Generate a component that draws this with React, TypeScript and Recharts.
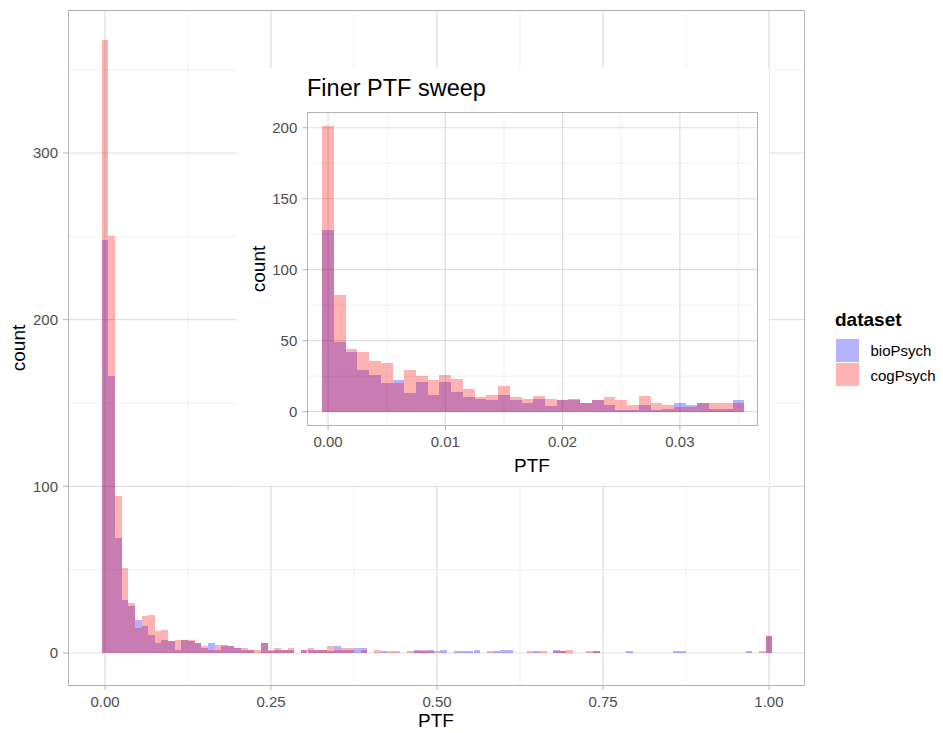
import { ComposedChart, Bar, XAxis, YAxis, CartesianGrid } from 'recharts';

// PTF histogram counts, bins 0.01 wide centred on 0.00, 0.01 … 1.00
const mainBio = [
  248, 166, 69, 32, 28, 20, 16, 11, 6, 8,
  7, 2, 8, 7, 6, 3, 6, 2, 5, 4,
  3, 2, 2, 0, 6, 1, 2, 2, 2, 0,
  2, 2, 2, 2, 1, 4, 2, 2, 3, 3,
  0, 0, 1, 0, 0, 0, 0, 2, 1, 2,
  0, 2, 0, 1, 1, 1, 2, 0, 0, 1,
  2, 2, 0, 0, 0, 1, 0, 0, 2, 1,
  0, 0, 0, 0, 1, 0, 0, 0, 0, 1,
  0, 0, 0, 0, 0, 0, 1, 1, 0, 0,
  0, 0, 0, 0, 0, 0, 0, 1, 0, 0,
  10,
];
const mainCog = [
  368, 250, 94, 51, 30, 15, 22, 23, 13, 14,
  7, 8, 8, 8, 6, 4, 2, 5, 4, 4,
  3, 3, 2, 2, 6, 2, 3, 2, 3, 0,
  2, 3, 2, 2, 4, 2, 3, 3, 0, 2,
  0, 2, 0, 1, 1, 0, 1, 1, 2, 1,
  1, 0, 0, 0, 0, 0, 0, 0, 1, 0,
  0, 0, 0, 0, 1, 0, 1, 0, 1, 1,
  2, 0, 0, 1, 1, 0, 0, 0, 0, 0,
  0, 0, 0, 0, 0, 0, 0, 0, 0, 0,
  0, 0, 0, 0, 0, 0, 0, 0, 0, 1,
  10,
];

// finer sweep, bins 0.001 wide centred on 0.000 … 0.035
const fineBio = [
  128, 49, 42, 29, 26, 20, 22, 13, 21, 12,
  21, 14, 10, 9, 8, 12, 8, 6, 9, 4,
  8, 9, 6, 8, 5, 1, 1, 5, 1, 2,
  6, 5, 6, 2, 2, 8,
];
const fineCog = [
  201, 82, 44, 42, 36, 34, 20, 29, 25, 22,
  26, 23, 16, 10, 12, 18, 10, 9, 11, 9,
  8, 8, 6, 8, 10, 8, 5, 11, 6, 5,
  3, 3, 6, 6, 6, 6,
];

const mainXTicks = [0, 0.25, 0.5, 0.75, 1];
const mainXMinor = [0.125, 0.375, 0.625, 0.875];
const mainYTicks = [0, 100, 200, 300];
const mainYMinor = [50, 150, 250, 350];

const fineXTicks = [0, 0.01, 0.02, 0.03];
const fineXMinor = [0.005, 0.015, 0.025, 0.035];
const fineYTicks = [0, 50, 100, 150, 200];
const fineYMinor = [25, 75, 125, 175];

const datasets = ['bioPsych', 'cogPsych'];

const FONT = '"Liberation Sans", Arial, Helvetica, sans-serif';
const BIO = '#0000FF';
const COG = '#FF0000';
const BORDER = '#B3B3B3';

type Rect = { left: number; top: number; width: number; height: number };

interface HistogramProps {
  width: number;
  height: number;
  plot: Rect;
  bio: number[];
  cog: number[];
  binWidth: number;
  xDomain: [number, number];
  yDomain: [number, number];
  xTicks: number[];
  xMinor: number[];
  yTicks: number[];
  yMinor: number[];
}

function Histogram({
  width,
  height,
  plot,
  bio,
  cog,
  binWidth,
  xDomain,
  yDomain,
  xTicks,
  xMinor,
  yTicks,
  yMinor,
}: HistogramProps) {
  const rows = bio.map((b, i) => ({ bin: i, x: i * binWidth, bio: b, cog: cog[i] }));

  // band axis for the bars is padded so its bins line up with the numeric axis
  const pxPerUnit = plot.width / (xDomain[1] - xDomain[0]);
  const lastCentre = (bio.length - 1) * binWidth;
  const padding = {
    left: (-binWidth / 2 - xDomain[0]) * pxPerUnit,
    right: (xDomain[1] - lastCentre - binWidth / 2) * pxPerUnit,
  };
  // just under the band so recharts keeps the fractional width and no offset
  const barSize = binWidth * pxPerUnit * 0.9995;

  const yAxisW = 60;
  const xAxisH = 30;
  const margin = {
    top: plot.top,
    left: plot.left - yAxisW,
    right: width - plot.left - plot.width,
    bottom: height - plot.top - plot.height - xAxisH,
  };
  const tick = { fill: '#4D4D4D', fontSize: 15, fontFamily: FONT };

  return (
    <ComposedChart
      width={width}
      height={height}
      data={rows}
      margin={margin}
      barCategoryGap={0}
      barGap={0}
    >
      <CartesianGrid
        stroke="#EDEDED"
        strokeWidth={0.8}
        verticalValues={xMinor}
        horizontalValues={yMinor}
      />
      <CartesianGrid
        stroke="#DEDEDE"
        strokeWidth={1.2}
        verticalValues={xTicks}
        horizontalValues={yTicks}
      />
      <XAxis
        type="number"
        dataKey="x"
        domain={xDomain}
        allowDataOverflow
        ticks={xTicks}
        interval={0}
        tickFormatter={(v: number) => v.toFixed(2)}
        height={xAxisH}
        tick={tick}
        tickLine={{ stroke: BORDER }}
        axisLine={false}
        tickSize={5}
        tickMargin={6}
      />
      <XAxis xAxisId="bio" type="category" dataKey="bin" scale="band" padding={padding} hide />
      <XAxis xAxisId="cog" type="category" dataKey="bin" scale="band" padding={padding} hide />
      <YAxis
        type="number"
        domain={yDomain}
        allowDataOverflow
        ticks={yTicks}
        interval={0}
        width={yAxisW}
        tick={tick}
        tickLine={{ stroke: BORDER }}
        axisLine={false}
        tickSize={5}
        tickMargin={5}
      />
      <Bar
        xAxisId="bio"
        dataKey="bio"
        barSize={barSize}
        fill={BIO}
        fillOpacity={0.3}
        shapeRendering="crispEdges"
        isAnimationActive={false}
      />
      <Bar
        xAxisId="cog"
        dataKey="cog"
        barSize={barSize}
        fill={COG}
        fillOpacity={0.3}
        shapeRendering="crispEdges"
        isAnimationActive={false}
      />
    </ComposedChart>
  );
}

function Text({
  x,
  y,
  size,
  children,
  rotate = false,
  bold = false,
  anchor = 'center',
}: {
  x: number;
  y: number;
  size: number;
  children: string;
  rotate?: boolean;
  bold?: boolean;
  anchor?: 'center' | 'left';
}) {
  const shift = anchor === 'center' ? 'translate(-50%, -50%)' : 'translate(0, -50%)';
  return (
    <div
      style={{
        position: 'absolute',
        left: x,
        top: y,
        transform: shift + (rotate ? ' rotate(-90deg)' : ''),
        fontSize: size,
        lineHeight: 1,
        fontWeight: bold ? 'bold' : 'normal',
        whiteSpace: 'nowrap',
        color: '#000',
      }}
    >
      {children}
    </div>
  );
}

function Frame({ rect }: { rect: Rect }) {
  return (
    <div
      style={{
        position: 'absolute',
        left: rect.left - 0.5,
        top: rect.top - 0.5,
        width: rect.width + 1,
        height: rect.height + 1,
        border: `1px solid ${BORDER}`,
        boxSizing: 'border-box',
        pointerEvents: 'none',
      }}
    />
  );
}

export default function App() {
  const mainPlot = { left: 68, top: 10, width: 736.5, height: 675 };
  const inset = { left: 237, top: 68, width: 532, height: 418 };
  const insetPlot = { left: 70.3, top: 44, width: 450, height: 313 };
  const keyFill = ['#B3B3FF', '#FFB3B3'];

  return (
    <div
      style={{
        position: 'absolute',
        left: 0,
        top: 0,
        width: 943,
        height: 733,
        background: '#fff',
        fontFamily: FONT,
      }}
    >
      <Histogram
        width={943}
        height={733}
        plot={mainPlot}
        bio={mainBio}
        cog={mainCog}
        binWidth={0.01}
        xDomain={[-0.0557, 1.0535]}
        yDomain={[-19.2, 385.8]}
        xTicks={mainXTicks}
        xMinor={mainXMinor}
        yTicks={mainYTicks}
        yMinor={mainYMinor}
      />
      <Frame rect={mainPlot} />
      <Text x={17.5} y={347.5} size={19} rotate>
        count
      </Text>
      <Text x={436} y={720} size={19}>
        PTF
      </Text>

      <div
        style={{
          position: 'absolute',
          left: inset.left,
          top: inset.top,
          width: inset.width,
          height: inset.height,
          background: '#fff',
        }}
      >
        <Histogram
          width={inset.width}
          height={inset.height}
          plot={insetPlot}
          bio={fineBio}
          cog={fineCog}
          binWidth={0.001}
          xDomain={[-0.00177, 0.0366]}
          yDomain={[-9.4, 211.1]}
          xTicks={fineXTicks}
          xMinor={fineXMinor}
          yTicks={fineYTicks}
          yMinor={fineYMinor}
        />
        <Frame rect={insetPlot} />
        <Text x={70} y={21} size={23.5} anchor="left">
          Finer PTF sweep
        </Text>
        <Text x={21} y={200.5} size={19} rotate>
          count
        </Text>
        <Text x={295} y={397} size={19}>
          PTF
        </Text>
      </div>

      <Text x={835} y={318.5} size={19} bold anchor="left">
        dataset
      </Text>
      {datasets.map((name, i) => (
        <div key={name}>
          <div
            style={{
              position: 'absolute',
              left: 836,
              top: 338.5 + i * 24.5,
              width: 23,
              height: 23,
              background: keyFill[i],
            }}
          />
          <Text x={870.5} y={350 + i * 24.5} size={15} anchor="left">
            {name}
          </Text>
        </div>
      ))}
    </div>
  );
}
